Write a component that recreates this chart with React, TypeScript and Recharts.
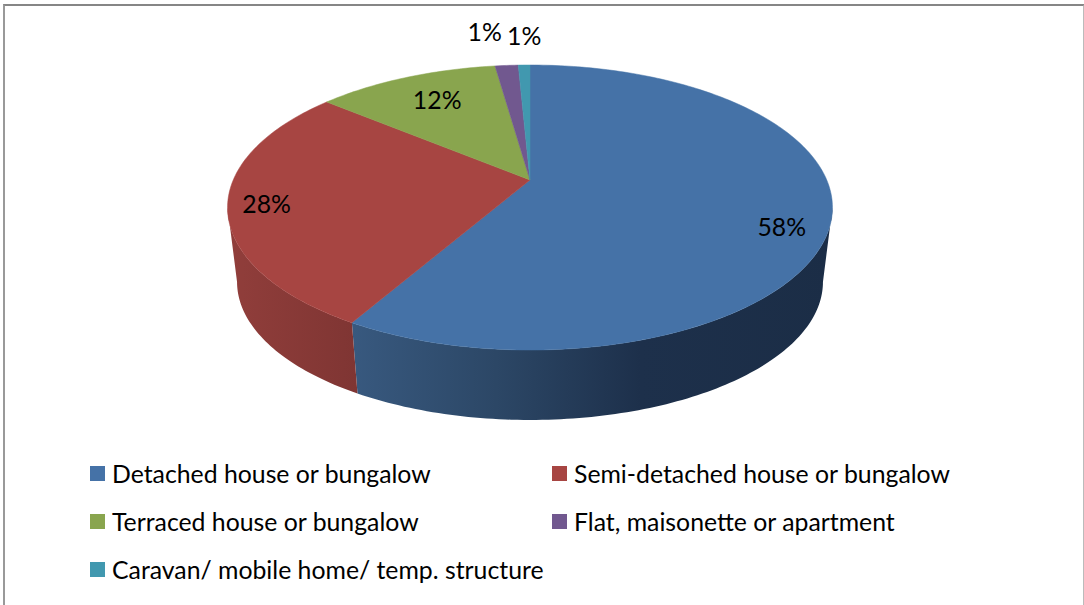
import { PieChart, Pie, Cell, Legend } from "recharts";

const categories = [
  "Detached house or bungalow",
  "Semi-detached house or bungalow",
  "Terraced house or bungalow",
  "Flat, maisonette or apartment",
  "Caravan/ mobile home/ temp. structure",
];
const shares = [58.33, 27.7, 11.73, 1.49, 0.75];
const COLORS = ["#4572a7", "#a74542", "#89a54e", "#71588f", "#4198af"];

// label offset from the rim point of each slice
const labelNudge = [
  [-50, 9],
  [39, -2],
  [31, 22],
  [-22, -34],
  [0, -30],
];

const data = categories.map((name, i) => ({ name, value: shares[i] }));

const FONT = "Lato, sans-serif";
const FONT_SIZE = 24.8;

// the disc is drawn in perspective: near edge is bigger, hub sits above the ellipse centre
const TILT = 0.193;
const WIDEN = 2.163;
const rad = (d: number) => (d * Math.PI) / 180;

function project(cx: number, cy: number, r: number, angle: number, lower = false) {
  const u = Math.cos(rad(angle));
  const v = -Math.sin(rad(angle));
  const d = 1 - TILT * v;
  const s = lower ? 0.9686 : 1;
  const y0 = lower ? cy + 75.3 : cy;
  return [cx + (r * WIDEN * s * u) / d, y0 + (r * s * v) / d];
}

function arc(cx: number, cy: number, r: number, from: number, to: number, lower = false) {
  const steps = Math.max(2, Math.ceil(Math.abs(to - from)));
  const pts: string[] = [];
  for (let i = 0; i <= steps; i++) {
    const p = project(cx, cy, r, from + ((to - from) * i) / steps, lower);
    pts.push(`${p[0].toFixed(2)} ${p[1].toFixed(2)}`);
  }
  return pts;
}

// rim angles (recharts convention) where the disc's silhouette turns, the wall lives between them
const SIDE = (Math.asin(TILT) * 180) / Math.PI;

function Slice(props: any) {
  const { cx, cy, outerRadius, startAngle, endAngle, fill, index } = props;
  const top = arc(cx, cy, outerRadius, startAngle, endAngle);
  const face = `M${cx} ${cy}L${top.join("L")}Z`;

  const wallFrom = Math.min(startAngle, -SIDE);
  const wallTo = Math.max(endAngle, -180 + SIDE);
  let wall = null;
  if (wallFrom > wallTo) {
    const upper = arc(cx, cy, outerRadius, wallFrom, wallTo);
    const lower = arc(cx, cy, outerRadius, wallTo, wallFrom, true);
    wall = <path d={`M${upper.join("L")}L${lower.join("L")}Z`} fill={`url(#wall${index})`} />;
  }
  return (
    <g>
      {wall}
      <path d={face} fill={fill} stroke={fill} strokeWidth={0.5} />
    </g>
  );
}

function SliceLabel(props: any) {
  const { cx, cy, outerRadius, midAngle, percent, index } = props;
  const p = project(cx, cy, outerRadius, midAngle);
  return (
    <text
      x={p[0] + labelNudge[index][0]}
      y={p[1] + labelNudge[index][1]}
      textAnchor="middle"
      dominantBaseline="central"
      fontFamily={FONT}
      fontSize={FONT_SIZE}
      fill="#000"
    >
      {Math.round(percent * 100)}%
    </text>
  );
}

function LegendGrid({ payload }: any) {
  return (
    <div
      style={{
        display: "grid",
        gridTemplateColumns: "462px 462px",
        gridAutoRows: "48px",
        paddingLeft: 90,
        fontFamily: FONT,
        fontSize: FONT_SIZE,
        color: "#000",
      }}
    >
      {(payload || []).map((entry: any) => (
        <div key={entry.value} style={{ display: "flex", alignItems: "center", whiteSpace: "nowrap" }}>
          <span style={{ width: 15, height: 15, background: entry.color, marginRight: 7, flex: "none" }} />
          {entry.value}
        </div>
      ))}
    </div>
  );
}

export default function App() {
  return (
    <div style={{ position: "absolute", left: 0, top: 0, width: 1084, height: 605, background: "#fff" }}>
      <div
        style={{
          position: "absolute",
          left: 3,
          top: 4,
          width: 1078,
          height: 601,
          borderTop: "2px solid #868686",
          borderLeft: "2px solid #999",
          borderRight: "2px solid #bbb",
        }}
      />
      <PieChart
        width={1084}
        height={605}
        margin={{ top: 0, right: 0, bottom: 0, left: 0 }}
        style={{ position: "absolute", left: 0, top: 0 }}
      >
        <defs>
          <linearGradient id="wall0" x1="0" x2="1" y1="0" y2="0">
            <stop offset="0%" stopColor="#38597f" />
            <stop offset="30%" stopColor="#2c4766" />
            <stop offset="60%" stopColor="#1d304b" />
            <stop offset="100%" stopColor="#1b2d46" />
          </linearGradient>
          <linearGradient id="wall1" x1="0" x2="1" y1="0" y2="0">
            <stop offset="0%" stopColor="#913e3b" />
            <stop offset="100%" stopColor="#7f3533" />
          </linearGradient>
        </defs>
        <Pie
          data={data}
          dataKey="value"
          nameKey="name"
          cx={530}
          cy={180}
          outerRadius={137.2}
          startAngle={90}
          endAngle={-270}
          paddingAngle={0}
          stroke="none"
          shape={Slice}
          label={SliceLabel}
          labelLine={false}
          isAnimationActive={false}
        >
          {data.map((_, index) => (
            <Cell key={index} fill={COLORS[index]} />
          ))}
        </Pie>
        <Legend
          content={LegendGrid}
          itemSorter={null}
          wrapperStyle={{ position: "absolute", left: 0, top: 449, width: 1084 }}
        />
      </PieChart>
    </div>
  );
}
